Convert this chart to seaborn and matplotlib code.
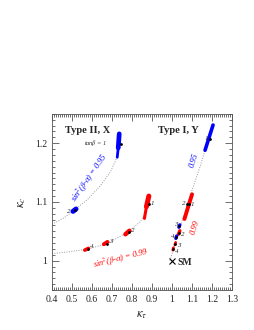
import matplotlib
matplotlib.use("Agg")
import matplotlib.pyplot as plt
import numpy as np
import pandas as pd
import seaborn as sns
from matplotlib.ticker import MultipleLocator

# dotted reference curves
curve_2x_95_x = [0.40, 0.46, 0.515, 0.58, 0.64, 0.69, 0.725]
curve_2x_95_y = [1.062, 1.073, 1.087, 1.105, 1.127, 1.150, 1.176]
curve_2x_99_x = [0.40, 0.48, 0.58, 0.675, 0.78, 0.84, 0.875]
curve_2x_99_y = [1.012, 1.015, 1.020, 1.029, 1.049, 1.066, 1.085]
curve_1y_x = [0.99, 1.02, 1.06, 1.10, 1.14, 1.165]
curve_1y_y = [1.000, 1.035, 1.078, 1.120, 1.160, 1.188]

# allowed regions (pieces of each blob: start/end)
blob_x0 = [0.726, 0.731, 0.505, 0.862, 0.872, 0.767, 0.659, 0.564, 1.165, 1.062, 1.034, 1.032, 1.019, 1.014, 1.004]
blob_y0 = [1.176, 1.192, 1.084, 1.072, 1.092, 1.045, 1.028, 1.018, 1.188, 1.071, 1.057, 1.045, 1.038, 1.027, 1.018]
blob_x1 = [0.731, 0.736, 0.520, 0.873, 0.884, 0.787, 0.677, 0.582, 1.205, 1.100, 1.039, 1.039, 1.023, 1.018, 1.007]
blob_y1 = [1.192, 1.216, 1.088, 1.094, 1.110, 1.051, 1.032, 1.021, 1.231, 1.113, 1.061, 1.051, 1.042, 1.031, 1.022]
blob_lw = [2.0, 3.4, 3.6, 2.2, 3.6, 3.2, 2.8, 2.6, 2.6, 2.8, 2.4, 2.4, 2.4, 2.0, 2.0]
blob_col = ["blue", "blue", "blue", "red", "red", "red", "red", "red", "blue", "red", "blue", "red", "blue", "red", "red"]

# tan(beta) benchmark points
pt_x = [0.745, 0.515, 0.885, 0.785, 0.675, 0.580, 1.190, 1.085, 1.075, 1.035, 1.036, 1.021, 1.016, 1.006]
pt_y = [1.198, 1.087, 1.096, 1.049, 1.029, 1.020, 1.208, 1.096, 1.097, 1.059, 1.047, 1.040, 1.029, 1.020]
pt_lab = ["", "2", "1", "2", "3", "4", "1", "1", "2", "3", "2", "4", "3", "4"]
pt_dx = [0, -0.03, 0.018, 0.018, 0.018, 0.018, -0.018, 0.018, -0.018, -0.018, 0.018, -0.018, 0.018, 0.018]
pt_dy = [0, -0.003, 0.002, 0.003, 0.004, 0.005, 0.0, -0.001, 0.001, 0.002, -0.003, 0.001, -0.003, -0.004]

sns.set_style("ticks")
plt.rcParams["font.family"] = ["Liberation Serif", "DejaVu Serif"]
plt.rcParams["mathtext.fontset"] = "stix"

fig = plt.figure(figsize=(2.55, 3.3), dpi=100)
ax = fig.add_axes([0.204, 0.121, 0.706, 0.534])

for cx, cy in [(curve_2x_95_x, curve_2x_95_y), (curve_2x_99_x, curve_2x_99_y),
               (curve_1y_x, curve_1y_y)]:
    sns.lineplot(x=cx, y=cy, sort=False, estimator=None, ax=ax, color="#999999",
                 linestyle=(0, (1, 1.5)), linewidth=0.7)

for x0, y0, x1, y1, lw, c in zip(blob_x0, blob_y0, blob_x1, blob_y1, blob_lw, blob_col):
    ax.plot([x0, x1], [y0, y1], color=c, linewidth=lw, solid_capstyle="round")

pts = pd.DataFrame({"x": pt_x, "y": pt_y})
sns.scatterplot(data=pts, x="x", y="y", ax=ax, color="black", s=4, marker="o",
                linewidth=0, zorder=5)
for x, y, lab, dx, dy in zip(pt_x, pt_y, pt_lab, pt_dx, pt_dy):
    if lab:
        ax.text(x + dx, y + dy, lab, fontsize=5, style="italic", ha="center", va="center")

ax.plot([1.0], [1.0], marker="x", color="black", markersize=4, markeredgewidth=0.8)
ax.text(1.025, 0.997, "SM", fontsize=7, fontweight="bold", va="center")

ax.text(0.465, 1.221, "Type II, X", fontsize=7.5, fontweight="bold", va="center")
ax.text(0.93, 1.221, "Type I, Y", fontsize=7.5, fontweight="bold", va="center")
ax.text(0.615, 1.200, r"tan$\beta$ = 1", fontsize=4.5, style="italic", ha="center", va="center")

ax.text(0.59, 1.141, r"sin$^2$($\beta$-$\alpha$) = 0.95", color="blue", fontsize=6,
        style="italic", rotation=55, ha="center", va="center")
ax.text(0.745, 1.004, r"sin$^2$($\beta$-$\alpha$) = 0.99", color="red", fontsize=6,
        style="italic", rotation=14, ha="center", va="center")
ax.text(1.11, 1.171, "0.95", color="blue", fontsize=6, style="italic", rotation=72,
        ha="center", va="center")
ax.text(1.115, 1.057, "0.99", color="red", fontsize=6, style="italic", rotation=72,
        ha="center", va="center")

ax.set_xlim(0.4, 1.3)
ax.set_ylim(0.95, 1.25)
ax.xaxis.set_minor_locator(MultipleLocator(0.01))
ax.yaxis.set_minor_locator(MultipleLocator(0.01))
ax.set_xticks(np.arange(0.4, 1.31, 0.1))
ax.set_xticklabels(["0.4", "0.5", "0.6", "0.7", "0.8", "0.9", "1", "1.1", "1.2", "1.3"])
ax.set_yticks([1.0, 1.1, 1.2])
ax.set_yticklabels(["1", "1.1", "1.2"])
ax.tick_params(which="both", direction="in", top=True, right=True, labelsize=7,
               color="#555555", width=0.6)
ax.tick_params(which="major", length=5)
ax.tick_params(which="minor", length=2.5)
for s in ax.spines.values():
    s.set_linewidth(0.6)
    s.set_color("#555555")

ax.set_xlabel(r"$\kappa_\tau$", fontsize=9, labelpad=4)
ax.set_ylabel(r"$\kappa_c$", fontsize=9, labelpad=5)

fig.savefig("out.png", dpi=100)
